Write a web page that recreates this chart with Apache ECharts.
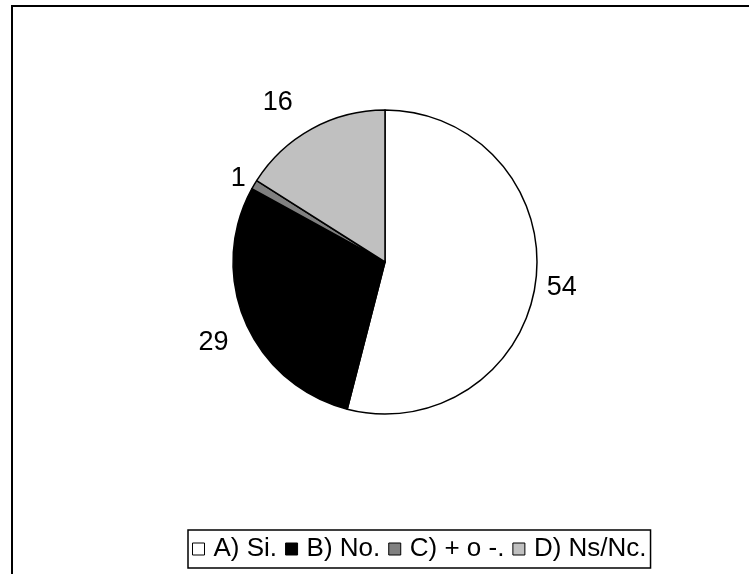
<!DOCTYPE html>
<html>
<head>
<meta charset="utf-8">
<script src="https://cdn.jsdelivr.net/npm/echarts@6/dist/echarts.min.js"></script>
<style>
  html, body { margin: 0; padding: 0; background: #fff; }
  #chart { width: 749px; height: 574px; }
</style>
</head>
<body>
<div id="chart"></div>
<script>
// Survey answers, share of respondents (%)
const categories = ['A) Si.', 'B) No.', 'C) + o -.', 'D) Ns/Nc.'];
const values = [54, 29, 1, 16];
const colors = ['#ffffff', '#000000', '#808080', '#c0c0c0'];

const FONT = 'Liberation Sans, Arial, sans-serif';

// per-slice label placement tweaks (outside labels, no leader lines)
const labelPlacement = [
  { length: 6, length2: 0, offset: [0, 6] },
  { length: 12, length2: 0, offset: [-1, 15] },
  { length: 4, length2: 0, offset: [0, -4] },
  { length: 29, length2: 0, offset: [0, -1] }
];

const chart = echarts.init(document.getElementById('chart'), null, { renderer: 'canvas' });

chart.setOption({
  animation: false,
  backgroundColor: '#ffffff',
  graphic: [{
    type: 'rect',
    shape: { x: 12, y: 6, width: 800, height: 700 },
    style: { fill: 'none', stroke: '#000', lineWidth: 2 },
    silent: true
  }],
  legend: {
    data: categories,
    bottom: 6,
    left: 188,
    orient: 'horizontal',
    icon: 'rect',
    itemWidth: 12,
    itemHeight: 12,
    itemGap: 8,
    padding: [6, 4],
    borderColor: '#000',
    borderWidth: 1.5,
    textStyle: { fontFamily: FONT, fontSize: 26, color: '#000', padding: [0, 0, 0, 4] },
    itemStyle: { borderColor: '#000', borderWidth: 1 }
  },
  series: [{
    type: 'pie',
    center: [385, 262],
    radius: 152,
    startAngle: 90,
    clockwise: true,
    avoidLabelOverlap: false,
    itemStyle: { borderColor: '#000', borderWidth: 1.5 },
    label: {
      show: true,
      position: 'outside',
      formatter: '{c}',
      fontFamily: FONT,
      fontSize: 27,
      color: '#000'
    },
    labelLine: { show: false },
    emphasis: { disabled: true },
    data: categories.map((name, i) => ({
      name: name,
      value: values[i],
      itemStyle: { color: colors[i] },
      label: { offset: labelPlacement[i].offset },
      labelLine: { show: false, length: labelPlacement[i].length, length2: labelPlacement[i].length2 }
    }))
  }]
});
</script>
</body>
</html>
